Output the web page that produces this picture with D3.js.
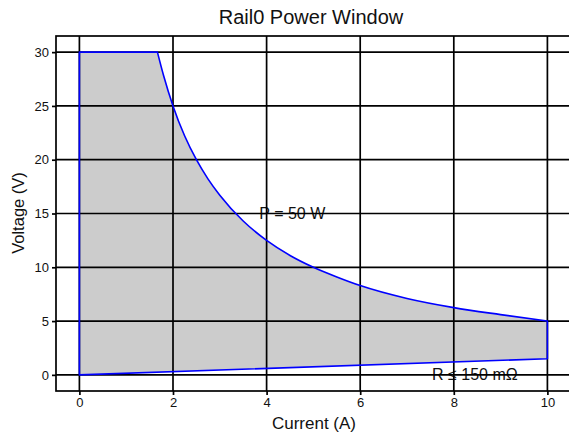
<!DOCTYPE html>
<html lang="en">
<head>
  <meta charset="UTF-8" />
  <title>Rail0 Power Window</title>
  <script src="https://d3js.org/d3.v7.min.js"></script>
  <style>
    body { margin: 0; background: #fff; }
    svg { display: block; font-family: "Liberation Sans", Arial, sans-serif; }
  </style>
</head>
<body>
  <svg width="569" height="439"></svg>
  <script>
    // axis ticks
    const currentTicks = [0, 2, 4, 6, 8, 10];
    const voltageTicks = [0, 5, 10, 15, 20, 25, 30];

    // straight edges of the window (A, V)
    const leftEdge = [[0, 0], [0, 30], [1.667, 30]];
    // constant power boundary
    const powerCurrent = [1.667, 1.8, 2, 2.25, 2.5, 2.75, 3, 3.5, 4, 4.5, 5, 5.5, 6, 7, 8, 9, 10];
    const powerVoltage = [30, 27.8, 25, 22.2, 20, 18.2, 16.7, 14.3, 12.5, 11.1, 10, 9.1, 8.3, 7.1, 6.25, 5.6, 5];
    // lower edge (resistance limit)
    const rightEdge = [[10, 5], [10, 1.5], [0, 0]];

    const labels = [
      { text: "P = 50 W", x: 4.55, y: 15 },
      { text: "R \u2264 150 m\u03a9", x: 8.45, y: 0 }
    ];

    const svg = d3.select("svg");
    const x = d3.scaleLinear().domain([-0.5, 10.5]).range([56, 570.8]);
    const y = d3.scaleLinear().domain([-1.5, 31.5]).range([391, 36]);

    const straight = d3.line().x(d => x(d[0])).y(d => y(d[1]));
    const curved = d3.line().x(d => x(d[0])).y(d => y(d[1])).curve(d3.curveMonotoneX);

    const powerPts = powerCurrent.map((c, i) => [c, powerVoltage[i]]);
    const pathD = straight(leftEdge)
      + curved(powerPts).replace(/^M/, "L")
      + straight(rightEdge).replace(/^M/, "L") + "Z";

    // fill
    svg.append("path")
      .attr("d", pathD)
      .attr("fill", "#cccccc")
      .attr("stroke", "none");

    // annotations
    svg.append("g")
      .selectAll("text")
      .data(labels)
      .join("text")
      .attr("x", d => x(d.x))
      .attr("y", d => y(d.y))
      .attr("dy", "0.35em")
      .attr("text-anchor", "middle")
      .attr("font-size", 16)
      .attr("fill", "#111")
      .text(d => d.text);

    // grid
    const grid = svg.append("g").attr("stroke", "#000").attr("stroke-width", 1.7);
    grid.selectAll("line.v")
      .data(currentTicks)
      .join("line")
      .attr("class", "v")
      .attr("x1", d => x(d)).attr("x2", d => x(d))
      .attr("y1", y.range()[0]).attr("y2", y.range()[1]);
    grid.selectAll("line.h")
      .data(voltageTicks)
      .join("line")
      .attr("class", "h")
      .attr("y1", d => y(d)).attr("y2", d => y(d))
      .attr("x1", x.range()[0]).attr("x2", x.range()[1]);

    // frame
    svg.append("rect")
      .attr("x", x.range()[0]).attr("y", y.range()[1])
      .attr("width", x.range()[1] - x.range()[0])
      .attr("height", y.range()[0] - y.range()[1])
      .attr("fill", "none")
      .attr("stroke", "#000")
      .attr("stroke-width", 1.7);

    // axes
    const xAxis = svg.append("g")
      .attr("transform", `translate(0,${y.range()[0]})`)
      .call(d3.axisBottom(x).tickValues(currentTicks).tickSize(4).tickPadding(3));
    const yAxis = svg.append("g")
      .attr("transform", `translate(${x.range()[0]},0)`)
      .call(d3.axisLeft(y).tickValues(voltageTicks).tickSize(4).tickPadding(3));
    [xAxis, yAxis].forEach(a => {
      a.select(".domain").remove();
      a.selectAll("line").attr("stroke", "#000").attr("stroke-width", 1.7);
      a.selectAll("text").attr("font-size", 13).attr("fill", "#111")
        .attr("font-family", "Liberation Sans, Arial, sans-serif");
    });

    // boundary outline
    svg.append("path")
      .attr("d", pathD)
      .attr("fill", "none")
      .attr("stroke", "#0000ff")
      .attr("stroke-width", 1.6)
      .attr("stroke-linejoin", "round");

    // titles
    svg.append("text")
      .attr("x", 311).attr("y", 24)
      .attr("text-anchor", "middle")
      .attr("font-size", 20)
      .attr("fill", "#111")
      .text("Rail0 Power Window");
    svg.append("text")
      .attr("x", 314).attr("y", 429)
      .attr("text-anchor", "middle")
      .attr("font-size", 17)
      .attr("fill", "#111")
      .text("Current (A)");
    svg.append("text")
      .attr("transform", "translate(24,213) rotate(-90)")
      .attr("text-anchor", "middle")
      .attr("font-size", 16.5)
      .attr("fill", "#111")
      .text("Voltage (V)");
  </script>
</body>
</html>
